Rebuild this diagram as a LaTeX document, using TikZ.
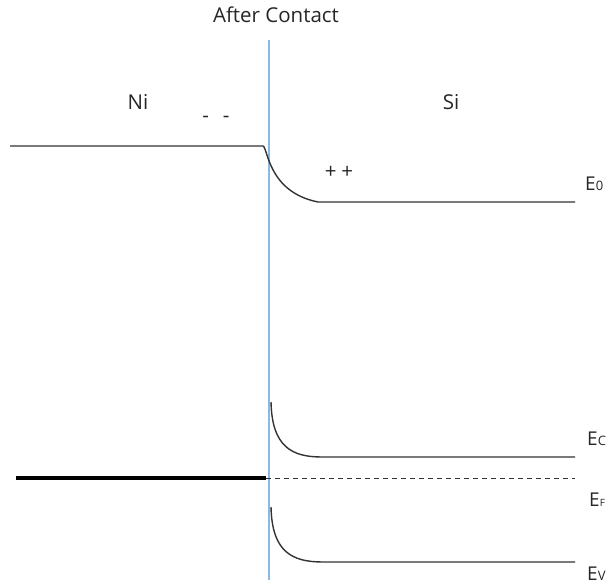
\documentclass[tikz,border=0pt]{standalone}
\usepackage{fontspec}
\setmainfont{Open Sans}
\begin{document}
\begin{tikzpicture}[x=1pt,y=-1pt,
  band/.style={draw=black!80,line width=1.4pt},
  lbl/.style={font=\fontsize{20.5}{20.5}\selectfont,text=black!85,inner sep=0pt},
  elbl/.style={font=\fontsize{19}{19}\selectfont,text=black!85,inner sep=0pt,anchor=base west}]
\useasboundingbox (0,0) rectangle (615,586);
\definecolor{ifacecol}{RGB}{140,185,225}
% interface
\coordinate (itop) at (269,40);
\coordinate (ibot) at (269,580);
\draw[draw=ifacecol,line width=2pt] (itop) -- (ibot);
% titles
\node[lbl] (title) at (276,15) {After Contact};
\node[lbl] (ni) at (138,102) {Ni};
\node[lbl] (si) at (451,102) {Si};
\node[lbl] (minus) at (216,119) {-\hspace{14pt}-};
\node[lbl] (plus) at (339,172) {+\hspace{5pt}+};
% vacuum level
\coordinate (e0a) at (10,146);
\coordinate (e0b) at (263,146);
\coordinate (e0c) at (318,202);
\coordinate (e0d) at (575,202);
\draw[band] (e0a) -- (e0b) .. controls (268,148) and (268,192) .. (e0c) -- (e0d);
% conduction band
\coordinate (eca) at (271,402);
\coordinate (ecb) at (322,457);
\coordinate (ecc) at (575,457);
\draw[band] (eca) .. controls (272,447) and (292,457) .. (ecb) -- (ecc);
% Fermi level
\coordinate (efa) at (16,478);
\coordinate (efb) at (266,478);
\coordinate (efc) at (575,478);
\draw[black,line width=3.5pt] (efa) -- (efb);
\draw[band,line width=1pt,dash pattern=on 5pt off 4pt] (efb) -- (efc);
% valence band
\coordinate (eva) at (271,507);
\coordinate (evb) at (323,562);
\coordinate (evc) at (575,562);
\draw[band] (eva) .. controls (272,552) and (292,562) .. (evb) -- (evc);
% level labels
\node[elbl] (le0) at (585,190) {E{\fontsize{13}{13}\selectfont 0}};
\node[elbl] (lec) at (587,445) {E{\fontsize{13}{13}\selectfont C}};
\node[elbl] (lef) at (589,506) {E{\fontsize{10}{10}\selectfont F}};
\node[elbl] (lev) at (587,580) {E{\fontsize{13}{13}\selectfont V}};
\end{tikzpicture}
\end{document}
